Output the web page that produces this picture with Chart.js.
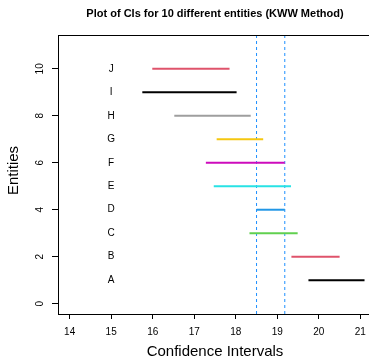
<!DOCTYPE html>
<html>
<head>
<meta charset="utf-8">
<script src="https://cdn.jsdelivr.net/npm/chart.js@4/dist/chart.umd.min.js"></script>
<style>
  html, body { margin: 0; padding: 0; background: #fff; overflow: hidden; }
  #wrap { width: 369px; height: 360px; overflow: hidden; }
  canvas { display: block; }
</style>
</head>
<body>
<div id="wrap"><canvas id="ciChart" width="380" height="360"></canvas></div>
<script>
const entities = ['A', 'B', 'C', 'D', 'E', 'F', 'G', 'H', 'I', 'J'];
const lowerCI = [19.75, 19.34, 18.33, 18.50, 17.47, 17.28, 17.54, 16.52, 15.75, 15.99];
const upperCI = [21.10, 20.50, 19.49, 19.18, 19.33, 19.18, 18.66, 18.36, 18.02, 17.85];
const refLines = [18.50, 19.18];
const lineColors = ['#000000', '#DF536B', '#61D04F', '#2297E6', '#28E2E5', '#CD0BBC', '#F5C710', '#9E9E9E', '#000000', '#DF536B'];
const xTicks = [14, 15, 16, 17, 18, 19, 20, 21];
const yTicks = [0, 2, 4, 6, 8, 10];
const xRange = [13.72, 21.28];
const yRange = [-0.44, 11.44];
const labelX = 15;

const FONT = '"Liberation Sans", Arial, sans-serif';

// one segment per entity, at height 1..10
const datasets = entities.map((name, i) => ({
    label: name,
    data: [{ x: lowerCI[i], y: i + 1 }, { x: upperCI[i], y: i + 1 }],
    borderColor: lineColors[i],
    borderWidth: 2,
    pointRadius: 0,
    showLine: true
}));

// dashed reference lines
refLines.forEach(v => {
    datasets.push({
        label: 'ref ' + v,
        data: [{ x: v, y: yRange[0] }, { x: v, y: yRange[1] }],
        borderColor: '#1E90FF',
        borderWidth: 1,
        borderDash: [3, 3],
        pointRadius: 0,
        showLine: true
    });
});

const textPlugin = {
    id: 'textPlugin',
    afterDraw(chart) {
        const ctx = chart.ctx;
        const area = chart.chartArea;
        const xs = chart.scales.x;
        const ys = chart.scales.y;
        const cx = (area.left + area.right) / 2;
        const cy = (area.top + area.bottom) / 2;

        ctx.save();
        // box
        ctx.strokeStyle = '#000';
        ctx.lineWidth = 1;
        ctx.strokeRect(area.left + 0.5, area.top + 0.5, area.right - area.left, area.bottom - area.top);

        ctx.fillStyle = '#000';
        ctx.textAlign = 'center';
        ctx.textBaseline = 'middle';

        ctx.font = 'bold 11px ' + FONT;
        ctx.fillText('Plot of CIs for 10 different entities (KWW Method)', cx, 14);

        ctx.font = '15px ' + FONT;
        ctx.fillText('Confidence Intervals', cx, 352);

        // letters
        ctx.font = '10px ' + FONT;
        entities.forEach((name, i) => {
            ctx.fillText(name, xs.getPixelForValue(labelX), ys.getPixelForValue(i + 1));
        });

        // rotated y tick labels
        yTicks.forEach(v => {
            ctx.save();
            ctx.translate(40, ys.getPixelForValue(v));
            ctx.rotate(-Math.PI / 2);
            ctx.fillText(String(v), 0, 0);
            ctx.restore();
        });

        ctx.font = '15px ' + FONT;
        ctx.translate(14, cy - 4);
        ctx.rotate(-Math.PI / 2);
        ctx.fillText('Entities', 0, 0);
        ctx.restore();
    }
};

new Chart(document.getElementById('ciChart'), {
    type: 'scatter',
    data: { datasets: datasets },
    options: {
        responsive: false,
        animation: false,
        layout: { padding: { top: 35, right: 8, left: 0, bottom: 0 } },
        plugins: {
            legend: { display: false },
            tooltip: { enabled: false }
        },
        scales: {
            x: {
                type: 'linear',
                min: xRange[0],
                max: xRange[1],
                afterBuildTicks: s => { s.ticks = xTicks.map(v => ({ value: v })); },
                afterFit: s => { s.height = 46; },
                border: { display: false },
                grid: { drawOnChartArea: false, tickLength: 5, color: '#000' },
                ticks: { color: '#000', padding: 7, font: { family: FONT, size: 10 } }
            },
            y: {
                type: 'linear',
                min: yRange[0],
                max: yRange[1],
                afterBuildTicks: s => { s.ticks = yTicks.map(v => ({ value: v })); },
                afterFit: s => { s.width = 58; },
                border: { display: false },
                grid: { drawOnChartArea: false, tickLength: 6, color: '#000' },
                ticks: { display: false }
            }
        }
    },
    plugins: [textPlugin]
});
</script>
</body>
</html>
